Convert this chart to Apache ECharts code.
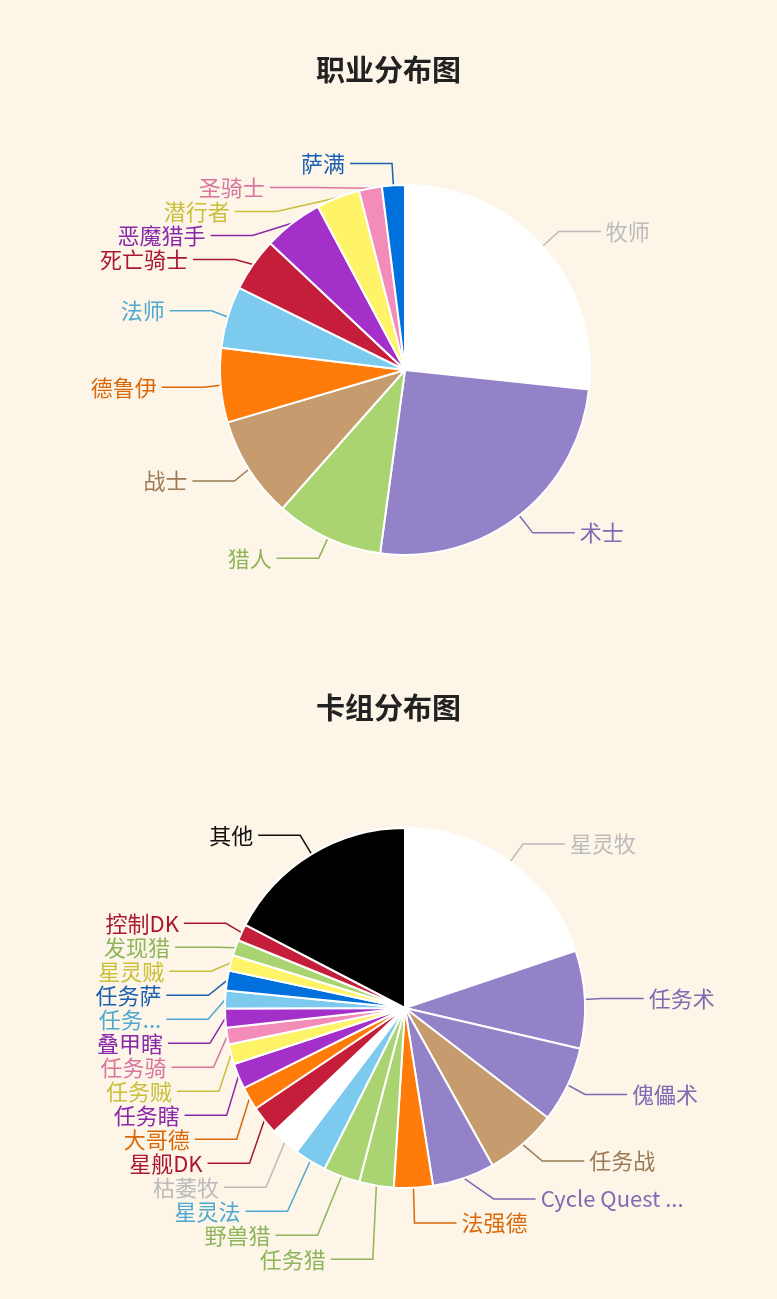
<!DOCTYPE html>
<html>
<head>
<meta charset="utf-8">
<script src="https://cdn.jsdelivr.net/npm/echarts@6/dist/echarts.min.js"></script>
<style>
html,body{margin:0;padding:0;background:#fdf5e8;}
#main{width:777px;height:1299px;}
</style>
</head>
<body>
<div id="main"></div>
<script>
// 职业分布
var classNames=['牧师','术士','猎人','战士','德鲁伊','法师','死亡骑士','恶魔猎手','潜行者','圣骑士','萨满'];
var classValues=[26.7,25.5,9.4,8.9,6.5,5.4,4.7,5.2,3.8,2.0,2.0];
var classColors=['#ffffff','#9482c9','#aad372','#c69b6d','#ff7c0a','#7ccbee','#c41e3a','#a330c9','#fff468','#f48cba','#0070dd'];
var classLabelColors=['#bbbbbb','#7e6cb3','#8fb55a','#9c7a55','#d9690a','#4fa9cf','#a8192f','#8a28aa','#c9bf3a','#d9769f','#1d5fb0'];
// 卡组分布
var deckNames=['星灵牧','任务术','傀儡术','任务战','Cycle Quest ...','法强德','任务猎','野兽猎','星灵法','枯萎牧','星舰DK','大哥德','任务瞎','任务贼','任务骑','叠甲瞎','任务...','任务萨','星灵贼','发现猎','控制DK','其他'];
var deckValues=[19.9,8.8,6.8,6.5,5.6,3.5,3.1,3.3,2.9,2.7,2.6,2.1,2.3,1.8,1.5,1.7,1.6,1.8,1.4,1.4,1.5,17.4];
var deckClass=['牧师','术士','术士','战士','术士','德鲁伊','猎人','猎人','法师','牧师','死亡骑士','德鲁伊','恶魔猎手','潜行者','圣骑士','恶魔猎手','法师','萨满','潜行者','猎人','死亡骑士','其他'];

function build(names,values,colors,labelColors){
	return names.map(function(n,i){
		return {name:n,value:values[i],itemStyle:{color:colors[i]},label:{color:labelColors[i]},labelLine:{lineStyle:{color:labelColors[i]}}};
	});
}
var deckColors=[],deckLabelColors=[];
deckClass.forEach(function(c){
	var k=classNames.indexOf(c);
	deckColors.push(k<0?'#000000':classColors[k]);
	deckLabelColors.push(k<0?'#111111':classLabelColors[k]);
});

var chart=echarts.init(document.getElementById('main'));
var pieBase={
	type:'pie',
	startAngle:90,
	clockwise:true,
	avoidLabelOverlap:true,
	itemStyle:{borderColor:'#ffffff',borderWidth:2},
	label:{fontSize:22,fontFamily:'Noto Sans CJK SC'},
	labelLine:{length:22,length2:42,lineStyle:{width:1.5}},
	animation:false
};
chart.setOption({
	backgroundColor:'#fdf5e8',
	title:[
		{text:'职业分布图',left:'center',top:50,textStyle:{fontSize:29,fontWeight:'bold',color:'#222',fontFamily:'Noto Sans CJK SC'}},
		{text:'卡组分布图',left:'center',top:688,textStyle:{fontSize:29,fontWeight:'bold',color:'#222',fontFamily:'Noto Sans CJK SC'}}
	],
	series:[
		Object.assign({},pieBase,{name:'职业',center:[405,370],radius:[0,185],data:build(classNames,classValues,classColors,classLabelColors)}),
		Object.assign({},pieBase,{name:'卡组',center:[405,1008],radius:[0,180],data:build(deckNames,deckValues,deckColors,deckLabelColors)})
	]
});
</script>
</body>
</html>
